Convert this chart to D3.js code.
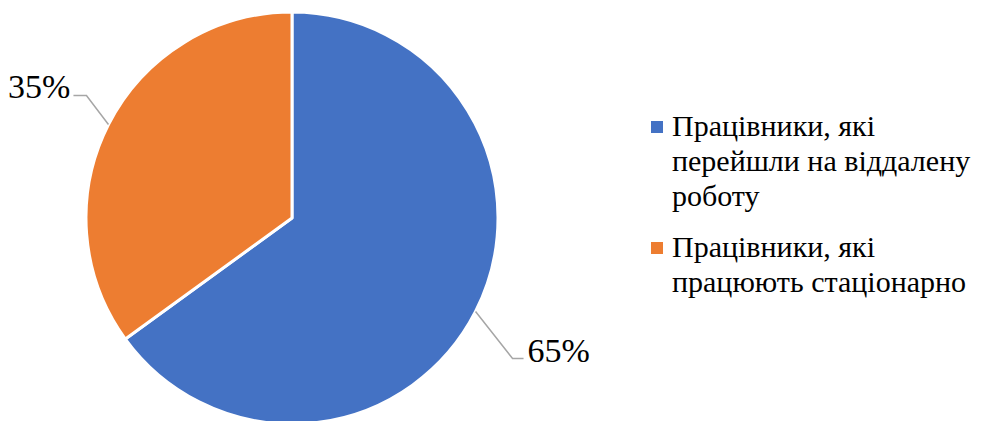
<!DOCTYPE html>
<html>
<head>
<meta charset="utf-8">
<script src="https://cdn.jsdelivr.net/npm/d3@7"></script>
</head>
<body style="margin:0">
<svg id="chart" width="992" height="421"></svg>
<script>
const categories = [
  "Працівники, які перейшли на віддалену роботу",
  "Працівники, які працюють стаціонарно"
];
const values = [65, 35];
const legendLines = [
  ["Працівники, які", "перейшли на віддалену", "роботу"],
  ["Працівники, які", "працюють стаціонарно"]
];
const colors = ["#4472C4", "#ED7D31"];

// label leader geometry (elbow offset from arc edge, horizontal run)
const leaders = [
  { dx: 37, dy: 47, run: 11 },
  { dx: -22, dy: -29, run: -13 }
];

const cx = 292;
const cy = 218;
const radius = 206;

const svg = d3.select("#chart");

const pie = d3.pie().sort(null).value((d) => d);
const arcs = pie(values);
const arc = d3.arc().innerRadius(0).outerRadius(radius);

svg.selectAll("path.slice")
  .data(arcs)
  .join("path")
  .attr("class", "slice")
  .attr("transform", `translate(${cx},${cy})`)
  .attr("d", arc)
  .attr("fill", (d, i) => colors[i])
  .attr("stroke", "#fff")
  .attr("stroke-width", 3)
  .attr("stroke-linejoin", "round");

function edgePoint(d) {
  const a = (d.startAngle + d.endAngle) / 2;
  return [cx + radius * Math.sin(a), cy - radius * Math.cos(a)];
}

arcs.forEach((d, i) => {
  const [x0, y0] = edgePoint(d);
  const l = leaders[i];
  const x1 = x0 + l.dx;
  const y1 = y0 + l.dy;
  const x2 = x1 + l.run;
  svg.append("polyline")
    .attr("points", `${x0},${y0} ${x1},${y1} ${x2},${y1}`)
    .attr("fill", "none")
    .attr("stroke", "#A6A6A6")
    .attr("stroke-width", 1.5);
  const right = l.run > 0;
  svg.append("text")
    .attr("x", x2 + (right ? 4 : -3))
    .attr("y", y1 + 3)
    .attr("text-anchor", right ? "start" : "end")
    .attr("font-size", 34)
    .attr("font-family", "Liberation Serif")
    .attr("style", "font-family: 'Liberation Serif', 'Times New Roman', serif")
    .text(`${d.data}%`);
});

const lineH = 35;
let y = 136;
legendLines.forEach((lines, i) => {
  svg.append("rect")
    .attr("x", 651)
    .attr("y", y - 15)
    .attr("width", 12)
    .attr("height", 12)
    .attr("fill", colors[i]);
  lines.forEach((line, k) => {
    svg.append("text")
      .attr("x", 672)
      .attr("y", y + k * lineH)
      .attr("font-size", 30)
      .attr("font-family", "Liberation Serif")
      .attr("style", "font-family: 'Liberation Serif', 'Times New Roman', serif")
      .text(line);
  });
  y += lines.length * lineH + 16;
});
</script>
</body>
</html>
